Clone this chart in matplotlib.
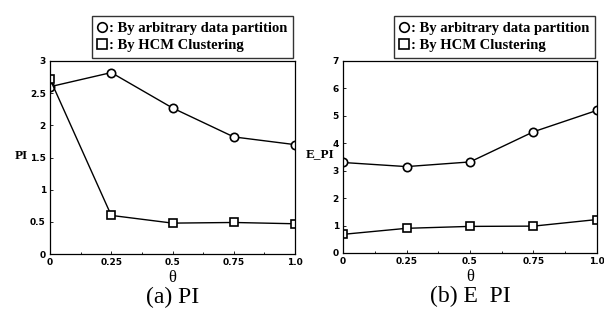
import matplotlib.pyplot as plt
from matplotlib.ticker import MultipleLocator

theta = [0, 0.25, 0.5, 0.75, 1.0]
pi_arbitrary = [2.6, 2.82, 2.27, 1.82, 1.7]
pi_hcm = [2.72, 0.6, 0.48, 0.49, 0.47]
epi_arbitrary = [3.3, 3.15, 3.32, 4.42, 5.2]
epi_hcm = [0.68, 0.9, 0.97, 0.98, 1.22]
xticklabels = ['0', '0.25', '0.5', '0.75', '1.0']
serif = 'Liberation Serif'

fig = plt.figure(figsize=(6.04, 3.15), dpi=100)
ax1 = fig.add_axes([50/604, 1-254/315, 245/604, 193/315])
ax2 = fig.add_axes([343/604, 1-253/315, 254/604, 192/315])


def draw(ax, y1, y2, ymax, yticks, ylab, ylab_x, ylab_y, caption):
    l1, = ax.plot(theta, y1, 'k-', marker='o', ms=6, mfc='white', mew=1.2, lw=1)
    l2, = ax.plot(theta, y2, 'k-', marker='s', ms=6, mfc='white', mew=1.2, lw=1)
    ax.set_xlim(0, 1.0)
    ax.set_ylim(0, ymax)
    ax.set_xticks(theta)
    ax.set_xticklabels(xticklabels)
    ax.xaxis.set_minor_locator(MultipleLocator(0.125))
    ax.set_yticks(yticks)
    ax.set_yticklabels([('%g' % v) for v in yticks])
    ax.tick_params(which='both', direction='in', labelsize=6.5, length=2, width=0.6, pad=3)
    ax.tick_params(which='minor', length=1.5)
    for s in ax.spines.values():
        s.set_linewidth(0.9)
    for t in ax.get_xticklabels() + ax.get_yticklabels():
        t.set_fontweight('bold')
    fig.text(ylab_x/604, 1-ylab_y/315, ylab, ha='right', va='center',
             fontsize=9.5, fontweight='bold', family=serif)
    ax.set_xlabel('θ', fontsize=12, family=serif, labelpad=2)
    ax.text(0.5, -49/193, caption, transform=ax.transAxes, ha='center', va='baseline',
            fontsize=17, family=serif)
    leg = ax.legend([l1, l2], [': By arbitrary data partition', ': By HCM Clustering'],
                    loc='lower right', bbox_to_anchor=(1.005, 1.0), frameon=True,
                    fancybox=False, handlelength=0.6, handletextpad=0.2,
                    borderpad=0.4, labelspacing=0.3, borderaxespad=0.2,
                    markerscale=1.15,
                    prop={'family': serif, 'weight': 'bold', 'size': 10.5})
    leg.get_frame().set_edgecolor('black')
    leg.get_frame().set_linewidth(1.0)
    for h in leg.legend_handles:
        h.set_linestyle('')
    return leg


draw(ax1, pi_arbitrary, pi_hcm, 3, [0, 0.5, 1, 1.5, 2, 2.5, 3], 'PI', 28, 156, '(a) PI')
draw(ax2, epi_arbitrary, epi_hcm, 7, [0, 1, 2, 3, 4, 5, 6, 7], 'E_PI', 334, 154, '(b) E  PI')

fig.savefig('out.png', dpi=100)
